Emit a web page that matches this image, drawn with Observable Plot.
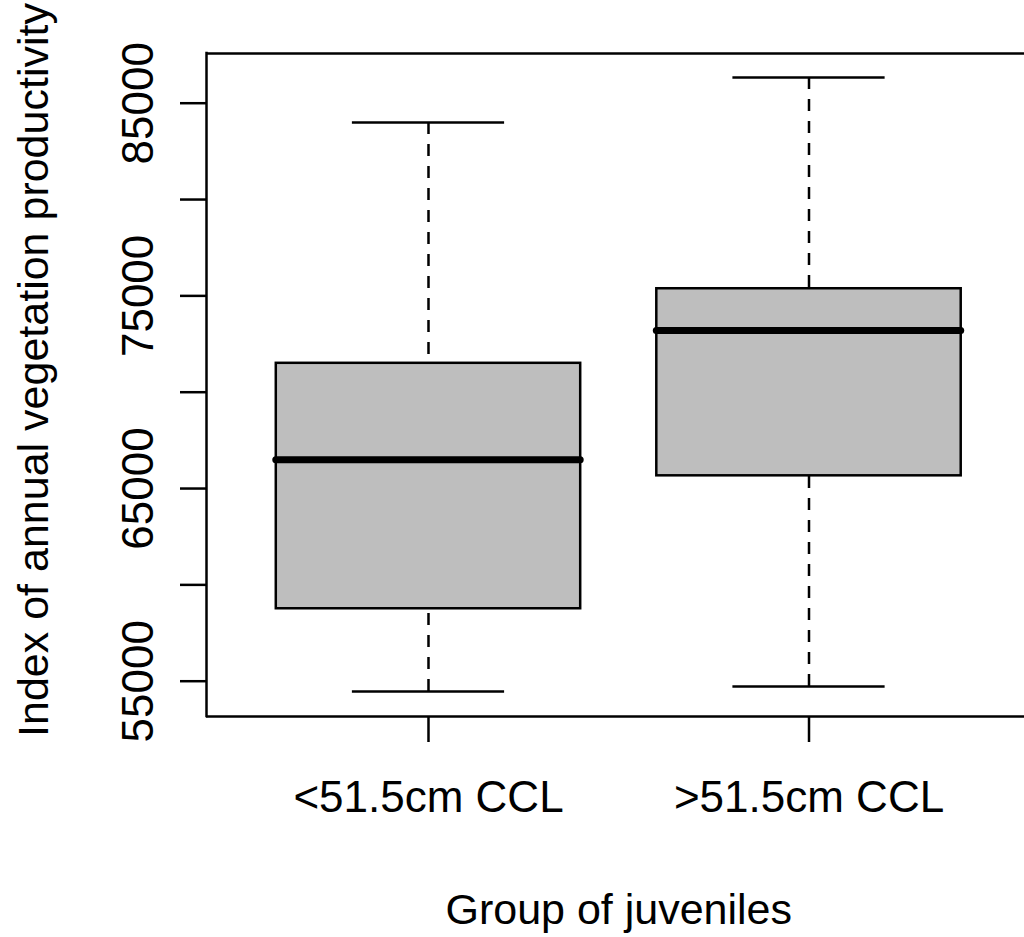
<!DOCTYPE html>
<html>
<head>
<meta charset="utf-8">
<script src="https://cdn.jsdelivr.net/npm/d3@7"></script>
<script src="https://cdn.jsdelivr.net/npm/@observablehq/plot@0.6"></script>
<style>
  html, body { margin: 0; padding: 0; background: #fff; }
</style>
</head>
<body>
<div id="chart"></div>
<script>
// ---- data ----
const groupLabels  = ["<51.5cm CCL", ">51.5cm CCL"];
const groupPos     = [1, 2];
const lowerWhisker = [54470, 54720];
const q1           = [58760, 65660];
const median       = [66490, 73200];
const q3           = [71500, 75370];
const upperWhisker = [84000, 86330];

const yTicks  = [55000, 60000, 65000, 70000, 75000, 80000, 85000];
const yLabels = [55000, 65000, 75000, 85000];

const xTitle = "Group of juveniles";
const yTitle = "Index of annual vegetation productivity";

// scale extents (R style 4% padding)
const xDomain = [0.4166, 2.5834];
const yDomain = [53168, 87580];

const boxHalf = 0.4, capHalf = 0.2;

const table = groupPos.map((p, i) => ({
  pos: p, label: groupLabels[i],
  lo: lowerWhisker[i], q1: q1[i], med: median[i], q3: q3[i], hi: upperWhisker[i]
}));

const FS = 44, FT = 43, SW = 2.5;
const font = "'Liberation Sans', Arial, Helvetica, sans-serif";

const chart = Plot.plot({
  width: 1024,
  height: 937,
  marginLeft: 206,
  marginRight: 0,
  marginTop: 53,
  marginBottom: 221,
  style: { fontFamily: font, background: "white", color: "black" },
  x: { type: "linear", domain: xDomain, range: [206, 1030.5] },
  y: { domain: yDomain },
  marks: [
    // frame (top, bottom, left; right edge falls outside the image)
    Plot.ruleY([yDomain[0], yDomain[1]], { stroke: "black", strokeWidth: SW }),
    Plot.ruleX([xDomain[0]], { stroke: "black", strokeWidth: SW, strokeLinecap: "square" }),
    // whiskers
    Plot.ruleX(table, { x: "pos", y1: "hi", y2: "q3", stroke: "black", strokeWidth: SW, strokeDasharray: "12,10" }),
    Plot.ruleX(table, { x: "pos", y1: "lo", y2: "q1", stroke: "black", strokeWidth: SW, strokeDasharray: "12,10" }),
    // caps
    Plot.ruleY(table, { y: "hi", x1: d => d.pos - capHalf, x2: d => d.pos + capHalf, stroke: "black", strokeWidth: SW }),
    Plot.ruleY(table, { y: "lo", x1: d => d.pos - capHalf, x2: d => d.pos + capHalf, stroke: "black", strokeWidth: SW }),
    // boxes
    Plot.rect(table, { x1: d => d.pos - boxHalf, x2: d => d.pos + boxHalf, y1: "q1", y2: "q3", fill: "#bebebe", stroke: "black", strokeWidth: SW }),
    // medians
    Plot.ruleY(table, { y: "med", x1: d => d.pos - boxHalf, x2: d => d.pos + boxHalf, stroke: "black", strokeWidth: 7, strokeLinecap: "round" }),
    // axes
    Plot.axisX(groupPos, { tickSize: 26, tickPadding: 38, strokeWidth: SW, fontSize: FS, tickFormat: d => groupLabels[d - 1], label: null }),
    Plot.axisY(yTicks, { tickSize: 26, strokeWidth: SW, tickFormat: () => "", label: null }),
    Plot.text(yLabels, { y: d => d, text: d => String(d), frameAnchor: "left", dx: -54, rotate: -90, textAnchor: "middle", lineAnchor: "bottom", fontSize: FS, fill: "black" }),
    // titles
    Plot.text([xTitle], { x: () => (xDomain[0] + xDomain[1]) / 2, frameAnchor: "bottom", dy: 207, lineAnchor: "bottom", textAnchor: "middle", fontSize: FT, fill: "black" }),
    Plot.text([yTitle], { frameAnchor: "left", dx: -(206 - 47), dy: -15, rotate: -90, textAnchor: "middle", lineAnchor: "bottom", fontSize: FT, fill: "black" })
  ]
});

document.getElementById("chart").appendChild(chart);
</script>
</body>
</html>
